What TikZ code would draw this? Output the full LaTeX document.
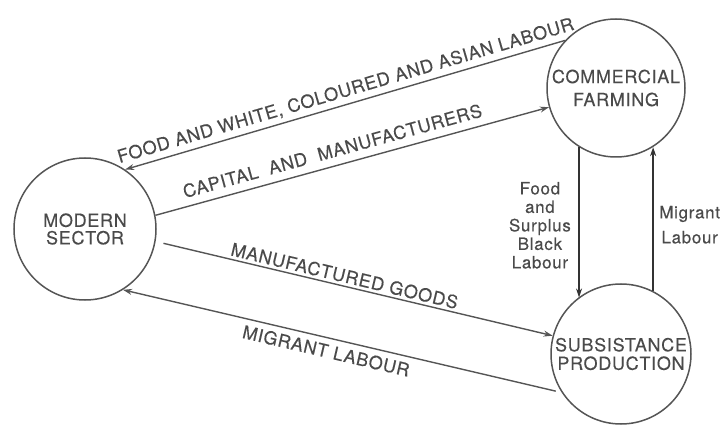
\documentclass[tikz,border=0pt]{standalone}
\usepackage{fontspec}
\setmainfont{TeX Gyre Heros}[LetterSpace=4,FakeBold=0.3]
\usetikzlibrary{arrows.meta}
\definecolor{ink}{HTML}{555555}
\definecolor{txt}{HTML}{4A4A4A}
\definecolor{dark}{HTML}{333333}
\begin{document}
\begin{tikzpicture}[x=1pt,y=-1pt,
  sector/.style={circle,draw=ink,line width=1.5pt,inner sep=0pt,minimum size=#1,
    align=center,text=txt},
  flow/.style={draw=ink,line width=1.4pt,-{Stealth[length=9pt,width=6pt]}},
  tie/.style={draw=dark,line width=2.4pt,-{Stealth[length=9pt,width=6pt]}},
  lbl/.style={font=\fontsize{18}{20}\selectfont,text=txt,inner sep=0pt,
    text height=13pt,text depth=0pt},
  side/.style={text=txt,align=center,inner sep=0pt}]
\useasboundingbox (0,0) rectangle (724,425);

% the three sectors
\node[sector=142pt,font=\fontsize{18}{17.5}\selectfont] (M) at (85,229) {MODERN\\SECTOR};
\node[sector=138pt,font=\fontsize{18}{23}\selectfont] (C) at (616,88) {COMMERCIAL\\FARMING};
\node[sector=140pt,font=\fontsize{18}{18.5}\selectfont] (S) at (621,354) {SUBSISTANCE\\PRODUCTION};

% flows between the modern sector and the two farming sectors
\draw[flow] (C.137) -- node[lbl,sloped,above=7pt,pos=0.49]
  {FOOD AND WHITE, COLOURED AND ASIAN LABOUR} (M.56.5);
\draw[flow] (M.11) -- node[lbl,sloped,above=8pt,pos=0.46]
  {CAPITAL\ \ AND\ \ MANUFACTURERS} (C.196);
\draw[flow,shorten <=8pt] (M.-10) -- node[lbl,sloped,above=3pt,pos=0.47]
  {MANUFACTURED GOODS} (S.165);
\draw[flow,shorten <=6pt] (S.213) -- node[lbl,sloped,below=6pt,pos=0.53]
  {MIGRANT LABOUR} (M.-58);

% flows between commercial farming and subsistence production
\draw[tie] (C.-122.4) -- node[side,left=7pt,pos=0.52,
    font=\fontsize{17}{18.5}\selectfont]
  {Food\\and\\Surplus\\Black\\Labour} (C.-122.4 |- S.127);
\draw[tie] (S.63.7) -- node[side,right=5pt,pos=0.46,
    font=\fontsize{17}{25}\selectfont]
  {Migrant\\Labour} (S.63.7 |- C.-58.5);
\end{tikzpicture}
\end{document}
